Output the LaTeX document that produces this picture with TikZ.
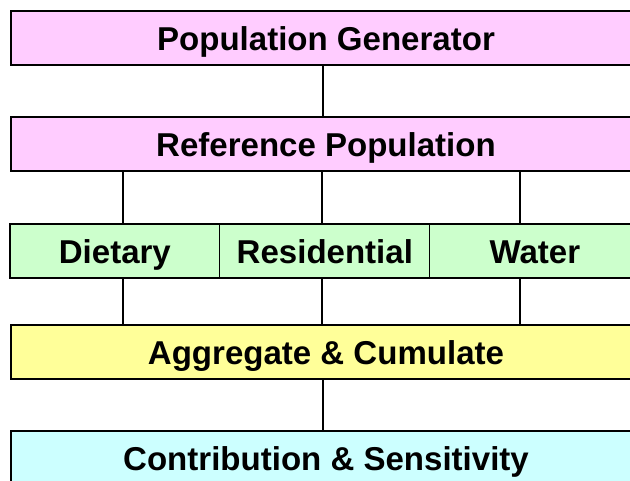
\documentclass[tikz,border=0pt]{standalone}
\usepackage{fontspec}
\setmainfont{Liberation Sans}
\usetikzlibrary{positioning}

\definecolor{genpink}{HTML}{FFCCFF}
\definecolor{lanegreen}{HTML}{CCFFCC}
\definecolor{aggyellow}{HTML}{FFFF99}
\definecolor{contcyan}{HTML}{CCFFFF}

\tikzset{
  stage/.style={draw=black,line width=1.3pt,minimum width=12.6cm,minimum height=1.08cm,
    inner sep=0pt,text height=18pt,text depth=4pt,font=\fontsize{18.8}{22}\selectfont\bfseries},
  lane/.style={draw=black,line width=0.6pt,fill=lanegreen,minimum width=4.2cm,minimum height=1.08cm,
    inner sep=0pt,outer sep=0pt,text height=18pt,text depth=4pt,font=\fontsize{18.8}{22}\selectfont\bfseries},
  link/.style={line width=1.1pt}
}

\begin{document}
\begin{tikzpicture}[line cap=rect]
  \useasboundingbox (0,0) rectangle (12.6,9.6);
  \clip (0,0) rectangle (12.6,9.6);
  % stufen
  \node[stage,fill=genpink] (gen) at (6.52,8.84) {Population Generator};
  \node[stage,fill=genpink,below=1cm of gen] (ref) {Reference Population};
  \node[lane,below right=1.03cm and 0cm of ref.south west] (diet) {Dietary};
  \node[lane,right=0pt of diet] (res) {Residential};
  \node[lane,right=0pt of res] (water) {Water};
  \draw[line width=1.3pt] (diet.north west) rectangle (water.south east);
  \node[stage,fill=aggyellow] (agg) at (6.52,2.56) {Aggregate \& Cumulate};
  \node[stage,fill=contcyan,below=1cm of agg] (cont) {Contribution \& Sensitivity};
  % verbindungen
  \draw[link] ([xshift=-0.06cm]gen.south) -- ([xshift=-0.06cm]ref.north);
  \draw[link] ([xshift=0.16cm]diet.north) -- ([xshift=0.16cm]diet.north |- ref.south);
  \draw[link] ([xshift=-0.06cm]res.north) -- ([xshift=-0.06cm]res.north |- ref.south);
  \draw[link] ([xshift=-0.3cm]water.north) -- ([xshift=-0.3cm]water.north |- ref.south);
  \draw[link] ([xshift=0.16cm]diet.south) -- ([xshift=0.16cm]diet.south |- agg.north);
  \draw[link] ([xshift=-0.06cm]res.south) -- ([xshift=-0.06cm]res.south |- agg.north);
  \draw[link] ([xshift=-0.3cm]water.south) -- ([xshift=-0.3cm]water.south |- agg.north);
  \draw[link] ([xshift=-0.06cm]agg.south) -- ([xshift=-0.06cm]cont.north);
\end{tikzpicture}
\end{document}
